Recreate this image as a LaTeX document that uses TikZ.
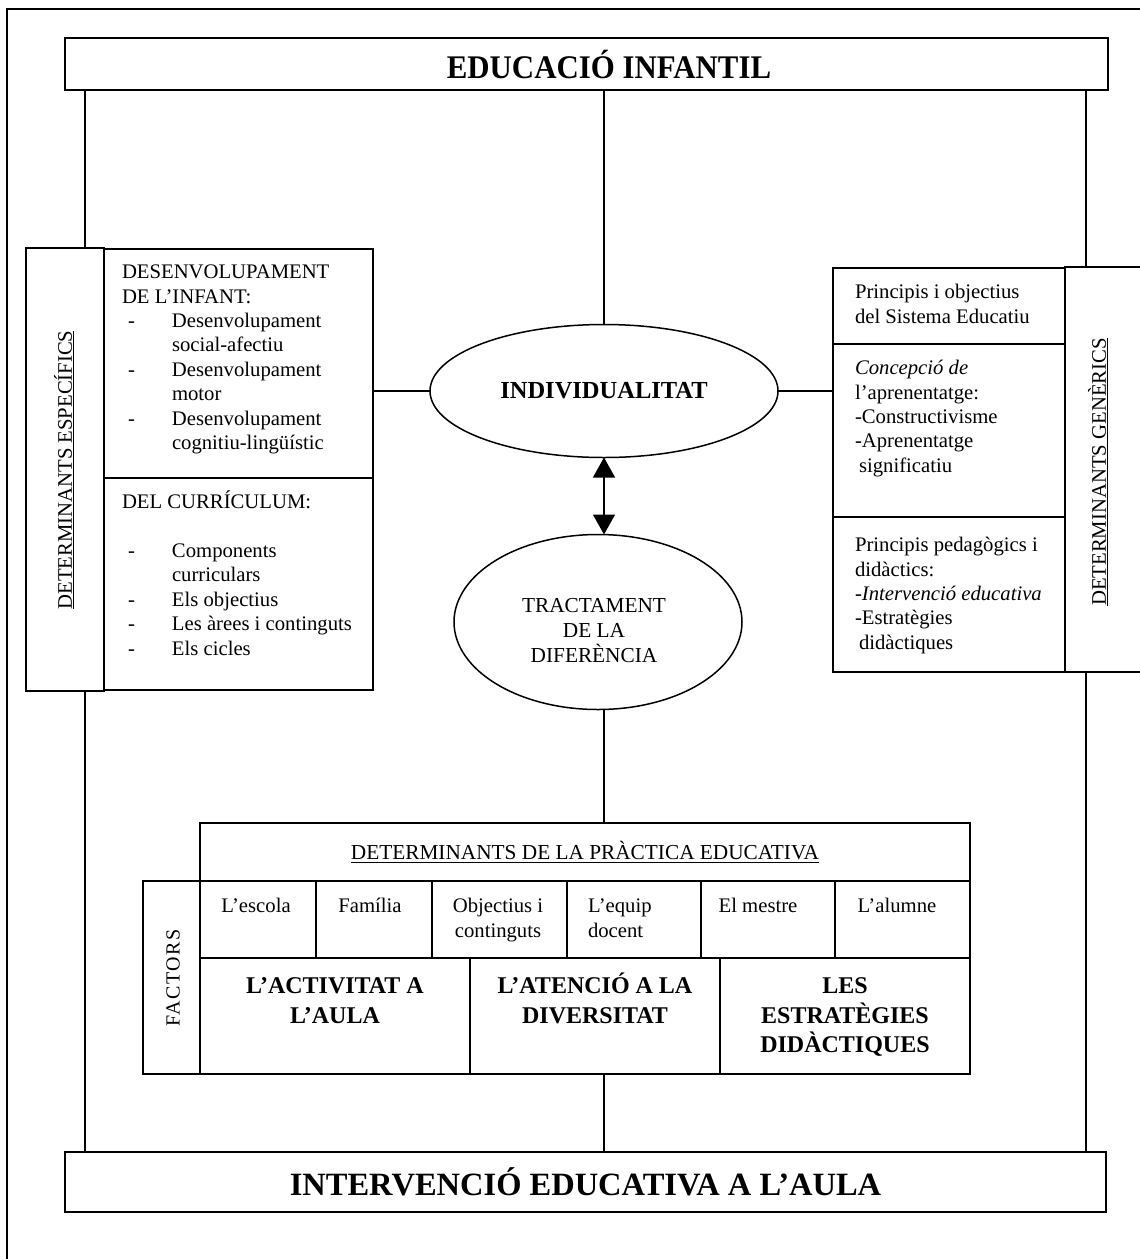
\documentclass[tikz,border=0pt]{standalone}
\usepackage{fontspec}
\setmainfont{Liberation Serif}
\usetikzlibrary{arrows.meta,shapes.geometric}
\newcommand\myst{\rule{0pt}{18pt}}
\newcommand\mystb{\rule{0pt}{22pt}}
\begin{document}
\begin{tikzpicture}[x=1pt,y=-1pt,
  frame/.style={draw, line width=1.5pt, inner sep=0pt, outer sep=0pt},
  conn/.style={line width=1.4pt},
  body/.style={font=\fontsize{20.7}{24.4}\selectfont, inner sep=0pt, outer sep=0pt},
  boldbody/.style={font=\bfseries\fontsize{24}{29.5}\selectfont, inner sep=0pt, outer sep=0pt, align=center},
  dbl/.style={conn, {Triangle[width=22pt,length=20pt]}-{Triangle[width=22pt,length=20pt]}}]
\clip (0,0) rectangle (1140,1259);
\fill[white] (0,0) rectangle (1140,1259);
% outer frame
\draw[line width=1.2pt] (7,1259) -- (7,9) -- (1140,9);

% top and bottom bars
\node[frame, minimum width=1043pt, minimum height=52pt] (top) at (586.5,64) {};
\node[inner sep=0pt, font=\bfseries\fontsize{33}{38}\selectfont] (toptxt) at (609,65) {\scalebox{0.935}[1]{EDUCACIÓ INFANTIL}};
\node[frame, minimum width=1041pt, minimum height=60pt, font=\bfseries\fontsize{32.5}{38}\selectfont] (bot) at (585.5,1182) {INTERVENCIÓ EDUCATIVA A L’AULA};

% left block
\node[frame, minimum width=78pt, minimum height=443pt] (lstrip) at (65,469.5) {};
\node[body, rotate=90] (ltxt) at (64,470) {\underline{DETERMINANTS ESPECÍFICS}};
\node[frame, minimum width=269pt, minimum height=229pt] (lup) at (238.5,363.5) {};
\node[frame, minimum width=269pt, minimum height=212pt] (llow) at (238.5,584) {};
\node[body, align=left, anchor=north west] (lupt) at (122,260.6) {\myst DESENVOLUPAMENT\\
DE L’INFANT:\\
\hspace*{6pt}\makebox[44pt][l]{-}Desenvolupament\\
\hspace*{50pt}social-afectiu\\
\hspace*{6pt}\makebox[44pt][l]{-}Desenvolupament\\
\hspace*{50pt}motor\\
\hspace*{6pt}\makebox[44pt][l]{-}Desenvolupament\\
\hspace*{50pt}cognitiu-lingüístic};
\node[body, align=left, anchor=north west] (llowt) at (122,490.6) {\myst DEL CURRÍCULUM:\\
\mbox{}\\
\hspace*{6pt}\makebox[44pt][l]{-}Components\\
\hspace*{50pt}curriculars\\
\hspace*{6pt}\makebox[44pt][l]{-}Els objectius\\
\hspace*{6pt}\makebox[44pt][l]{-}Les àrees i continguts\\
\hspace*{6pt}\makebox[44pt][l]{-}Els cicles};

% right block
\node[frame, minimum width=232pt, minimum height=76pt] (rup) at (949,306) {};
\node[frame, minimum width=232pt, minimum height=173pt] (rmid) at (949,430.5) {};
\node[frame, minimum width=232pt, minimum height=155pt] (rlow) at (949,594.5) {};
\node[frame, minimum width=94pt, minimum height=405pt] (rstrip) at (1112,469.5) {};
\node[body, rotate=90] (rtxt) at (1098,472) {\underline{DETERMINANTS GENÈRICS}};
\node[body, align=left, anchor=north west] (rupt) at (855,280.6) {\myst Principis i objectius\\del Sistema Educatiu};
\node[body, align=left, anchor=north west] (rmidt) at (855,356.6) {\myst\textit{Concepció de}\\
l’aprenentatge:\\
-Constructivisme\\
-Aprenentatge\\
\hspace*{4pt}significatiu};
\node[body, align=left, anchor=north west] (rlowt) at (855,533.6) {\myst Principis pedagògics i\\
didàctics:\\
-\textit{Intervenció educativa}\\
-Estratègies\\
\hspace*{4pt}didàctiques};

% ellipses
\node[frame, ellipse, minimum width=348pt, minimum height=133pt, font=\bfseries\fontsize{24.5}{29}\selectfont] (e1) at (604,391) {INDIVIDUALITAT};
\node[frame, ellipse, minimum width=288pt, minimum height=175pt] (e2) at (598,622) {};
\node[inner sep=0pt, font=\fontsize{21.3}{25}\selectfont, align=center, anchor=north] (e2t) at (594,594.2) {\myst TRACTAMENT\\DE LA\\DIFERÈNCIA};

% table
\node[frame, minimum width=770pt, minimum height=58pt, font=\fontsize{21.3}{25}\selectfont] (hdr) at (585,852) {\underline{DETERMINANTS DE LA PRÀCTICA EDUCATIVA}};
\node[frame, minimum width=57pt, minimum height=193pt] (fac) at (171.5,977.5) {};
\node[inner sep=0pt, rotate=90, font=\fontsize{20}{24}\selectfont\addfontfeature{LetterSpace=7}] (factxt) at (173,978) {FACTORS};
\node[frame, minimum width=116pt, minimum height=77pt] (c1) at (258,919.5) {};
\node[frame, minimum width=116pt, minimum height=77pt] (c2) at (374,919.5) {};
\node[frame, minimum width=135pt, minimum height=77pt] (c3) at (499.5,919.5) {};
\node[frame, minimum width=134pt, minimum height=77pt] (c4) at (634,919.5) {};
\node[frame, minimum width=134pt, minimum height=77pt] (c5) at (768,919.5) {};
\node[frame, minimum width=135pt, minimum height=77pt] (c6) at (902.5,919.5) {};
\node[body, align=center, anchor=north] (t1) at (256,894.6) {\myst L’escola};
\node[body, align=center, anchor=north] (t2) at (370,894.6) {\myst Família};
\node[body, align=center, anchor=north] (t3) at (498,894.6) {\myst Objectius i\\continguts};
\node[body, align=left, anchor=north west] (t4) at (588,894.6) {\myst L’equip\\docent};
\node[body, align=center, anchor=north] (t5) at (758,894.6) {\myst El mestre};
\node[body, align=center, anchor=north] (t6) at (897,894.6) {\myst L’alumne};
\node[frame, minimum width=270pt, minimum height=116pt] (d1) at (335,1016) {};
\node[frame, minimum width=250pt, minimum height=116pt] (d2) at (595,1016) {};
\node[frame, minimum width=250pt, minimum height=116pt] (d3) at (845,1016) {};
\node[boldbody, anchor=north] (u1) at (335,971.9) {\mystb L’ACTIVITAT A\\L’AULA};
\node[boldbody, anchor=north] (u2) at (595,971.9) {\mystb L’ATENCIÓ A LA\\DIVERSITAT};
\node[boldbody, anchor=north] (u3) at (845,971.9) {\mystb LES\\ESTRATÈGIES\\DIDÀCTIQUES};

% connectors
\coordinate (lx) at (85,0);
\coordinate (rx) at (1086,0);
\draw[conn] (top.south -| lx) -- (lstrip.north -| lx);
\draw[conn] (lstrip.south -| lx) -- (bot.north -| lx);
\draw[conn] (top.south -| rx) -- (rstrip.north -| rx);
\draw[conn] (rstrip.south -| rx) -- (bot.north -| rx);
\draw[conn] (top.south -| e1) -- (e1.north);
\draw[conn] (e1.west) -- (e1.west -| lup.east);
\draw[conn] (e1.east) -- (e1.east -| rmid.west);
\draw[dbl] (e1.south) -- (e1.south |- e2.north);
\draw[conn] (e1 |- e2.south) -- (e1 |- hdr.north);
\draw[conn] (e1 |- d2.south) -- (e1 |- bot.north);
\end{tikzpicture}
\end{document}
